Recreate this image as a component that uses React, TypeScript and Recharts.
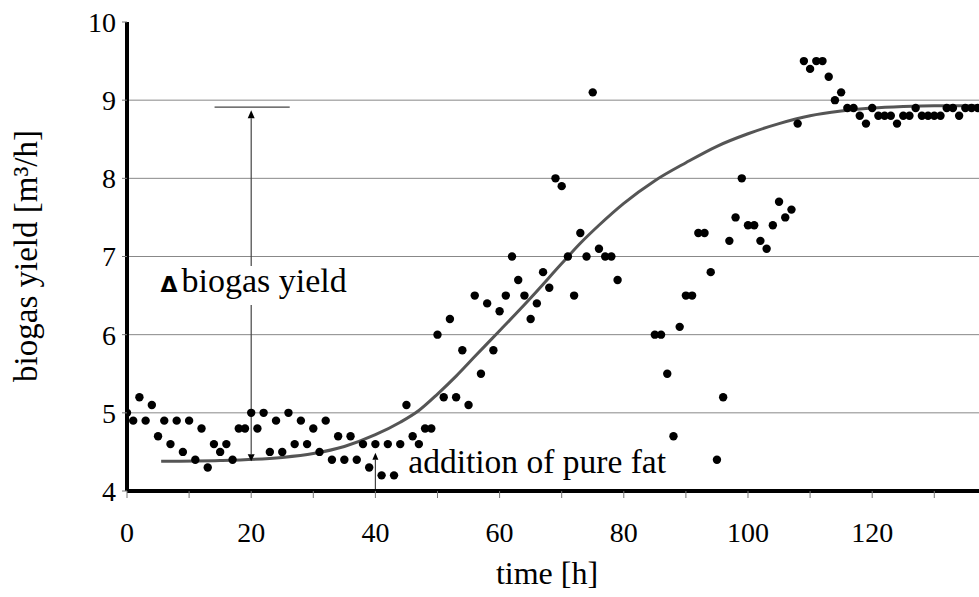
import React from "react";
import {
  ComposedChart,
  Scatter,
  Line,
  XAxis,
  YAxis,
  ReferenceLine,
  ReferenceDot,
} from "recharts";

// measured hours (gap between 79 h and 85 h)
const hours = [
  0, 1, 2, 3, 4, 5, 6, 7, 8, 9,
  10, 11, 12, 13, 14, 15, 16, 17, 18, 19,
  20, 21, 22, 23, 24, 25, 26, 27, 28, 29,
  30, 31, 32, 33, 34, 35, 36, 37, 38, 39,
  40, 41, 42, 43, 44, 45, 46, 47, 48, 49,
  50, 51, 52, 53, 54, 55, 56, 57, 58, 59,
  60, 61, 62, 63, 64, 65, 66, 67, 68, 69,
  70, 71, 72, 73, 74, 75, 76, 77, 78, 79,
  85, 86, 87, 88, 89,
  90, 91, 92, 93, 94, 95, 96, 97, 98, 99,
  100, 101, 102, 103, 104, 105, 106, 107, 108, 109,
  110, 111, 112, 113, 114, 115, 116, 117, 118, 119,
  120, 121, 122, 123, 124, 125, 126, 127, 128, 129,
  130, 131, 132, 133, 134, 135, 136, 137,
];

const yields = [
  5.0, 4.9, 5.2, 4.9, 5.1, 4.7, 4.9, 4.6, 4.9, 4.5,
  4.9, 4.4, 4.8, 4.3, 4.6, 4.5, 4.6, 4.4, 4.8, 4.8,
  5.0, 4.8, 5.0, 4.5, 4.9, 4.5, 5.0, 4.6, 4.9, 4.6,
  4.8, 4.5, 4.9, 4.4, 4.7, 4.4, 4.7, 4.4, 4.6, 4.3,
  4.6, 4.2, 4.6, 4.2, 4.6, 5.1, 4.7, 4.6, 4.8, 4.8,
  6.0, 5.2, 6.2, 5.2, 5.8, 5.1, 6.5, 5.5, 6.4, 5.8,
  6.3, 6.5, 7.0, 6.7, 6.5, 6.2, 6.4, 6.8, 6.6, 8.0,
  7.9, 7.0, 6.5, 7.3, 7.0, 9.1, 7.1, 7.0, 7.0, 6.7,
  6.0, 6.0, 5.5, 4.7, 6.1,
  6.5, 6.5, 7.3, 7.3, 6.8, 4.4, 5.2, 7.2, 7.5, 8.0,
  7.4, 7.4, 7.2, 7.1, 7.4, 7.7, 7.5, 7.6, 8.7, 9.5,
  9.4, 9.5, 9.5, 9.3, 9.0, 9.1, 8.9, 8.9, 8.8, 8.7,
  8.9, 8.8, 8.8, 8.8, 8.7, 8.8, 8.8, 8.9, 8.8, 8.8,
  8.8, 8.8, 8.9, 8.9, 8.8, 8.9, 8.9, 8.9,
];

// fitted curve
const fitHours = [
  5.5, 15, 25, 30, 35, 40, 44, 47, 50, 53, 56, 60, 65, 70, 73, 76, 80, 85,
  90, 95, 100, 105, 110, 115, 120, 125, 130, 137.2,
];
const fitYields = [
  4.38, 4.39, 4.43, 4.48, 4.57, 4.72, 4.88, 5.03, 5.24, 5.47, 5.72, 6.05,
  6.47, 6.91, 7.17, 7.4, 7.68, 7.97, 8.2, 8.41, 8.57, 8.7, 8.8, 8.86, 8.9,
  8.92, 8.93, 8.93,
];

const xTicks = [0, 10, 20, 30, 40, 50, 60, 70, 80, 90, 100, 110, 120, 130];
const yTicks = [4, 5, 6, 7, 8, 9, 10];
const gridValues = [5, 6, 7, 8, 9];

const points = hours.map((t, i) => ({ t, v: yields[i] }));
const fit = fitHours.map((t, i) => ({ t, v: fitYields[i] }));

const SERIF = "'Liberation Serif', 'Times New Roman', serif";
const INK = "#444";

const DotShape = (p: any) => <circle cx={p.cx} cy={p.cy} r={4.2} fill="#000" />;

// line with a filled arrow head at its second end
const arrowShape = (len: number, half: number) => (p: any) => {
  const { x1, y1, x2, y2 } = p;
  const dx = x2 - x1;
  const dy = y2 - y1;
  const d = Math.hypot(dx, dy) || 1;
  const ux = dx / d;
  const uy = dy / d;
  const bx = x2 - ux * len;
  const by = y2 - uy * len;
  const pts = `${x2},${y2} ${bx - uy * half},${by + ux * half} ${bx + uy * half},${by - ux * half}`;
  return (
    <g>
      <line x1={x1} y1={y1} x2={bx} y2={by} stroke={INK} strokeWidth={1.2} />
      <polygon points={pts} fill="#000" />
    </g>
  );
};

const plainShape = (p: any) => (
  <line x1={p.x1} y1={p.y1} x2={p.x2} y2={p.y2} stroke={INK} strokeWidth={1.2} />
);

const deltaText = (p: any) => (
  <text x={p.cx} y={p.cy} fontFamily={SERIF} fontSize={34} fill="#000">
    <tspan fontFamily="'DejaVu Sans', sans-serif" fontWeight="bold" fontSize={22}>
      Δ
    </tspan>
    <tspan dx={4}>biogas yield</tspan>
  </text>
);

const fatText = (p: any) => (
  <text x={p.cx} y={p.cy} fontFamily={SERIF} fontSize={33.5} fill="#000">
    addition of pure fat
  </text>
);

const tickStyle = { fill: "#000", fontSize: 28, fontFamily: SERIF };

export default function App() {
  return (
    <div
      style={{
        position: "absolute",
        left: 0,
        top: 0,
        width: 979,
        height: 597,
        overflow: "hidden",
        background: "#fff",
      }}
    >
      <ComposedChart
        width={979}
        height={597}
        margin={{ top: 22, right: 0, bottom: 0, left: 0 }}
      >
        <XAxis
          type="number"
          dataKey="t"
          domain={[0, 137.2]}
          allowDataOverflow
          ticks={xTicks}
          interval={0}
          tickFormatter={(v: number) => (v % 20 === 0 ? String(v) : "")}
          height={106}
          axisLine={{ stroke: "#000", strokeWidth: 4 }}
          tickLine={{ stroke: "#777" }}
          tickSize={7}
          tickMargin={24}
          tick={tickStyle}
        />
        <YAxis
          type="number"
          dataKey="v"
          domain={[4, 10]}
          allowDataOverflow
          ticks={yTicks}
          interval={0}
          width={127}
          axisLine={{ stroke: "#000", strokeWidth: 4 }}
          tickLine={{ stroke: "#777" }}
          tickSize={5}
          tickMargin={6}
          tick={tickStyle}
        />
        {gridValues.map((v) => (
          <ReferenceLine key={v} y={v} stroke="#888" strokeWidth={1} />
        ))}
        <Line
          data={fit}
          dataKey="v"
          type="monotone"
          stroke="#555"
          strokeWidth={3}
          dot={false}
          activeDot={false}
          isAnimationActive={false}
        />
        <Scatter data={points} shape={DotShape} isAnimationActive={false} />

        {/* delta biogas yield marker */}
        <ReferenceLine
          segment={[{ x: 20, y: 6.38 }, { x: 20, y: 4.38 }]}
          shape={arrowShape(7, 3.5)}
        />
        <ReferenceLine
          segment={[{ x: 20, y: 6.88 }, { x: 20, y: 8.87 }]}
          shape={arrowShape(8, 3.5)}
        />
        <ReferenceLine
          segment={[{ x: 14.1, y: 8.91 }, { x: 26.2, y: 8.91 }]}
          shape={plainShape}
        />
        <ReferenceDot x={5.4} y={6.546} r={1} shape={deltaText} />

        {/* fat addition marker */}
        <ReferenceLine
          segment={[{ x: 40, y: 4 }, { x: 40, y: 4.49 }]}
          shape={arrowShape(7, 3)}
        />
        <ReferenceDot x={45.3} y={4.23} r={1} shape={fatText} />
      </ComposedChart>

      {/* axis titles */}
      <svg
        width={979}
        height={597}
        style={{ position: "absolute", left: 0, top: 0, pointerEvents: "none" }}
      >
        <text
          x={547}
          y={584}
          textAnchor="middle"
          fontFamily={SERIF}
          fontSize={32}
          fill="#000"
        >
          time [h]
        </text>
        <text
          transform="translate(37,256) rotate(-90)"
          textAnchor="middle"
          fontFamily={SERIF}
          fontSize={33}
          fill="#000"
        >
          biogas yield [m³/h]
        </text>
      </svg>
    </div>
  );
}
